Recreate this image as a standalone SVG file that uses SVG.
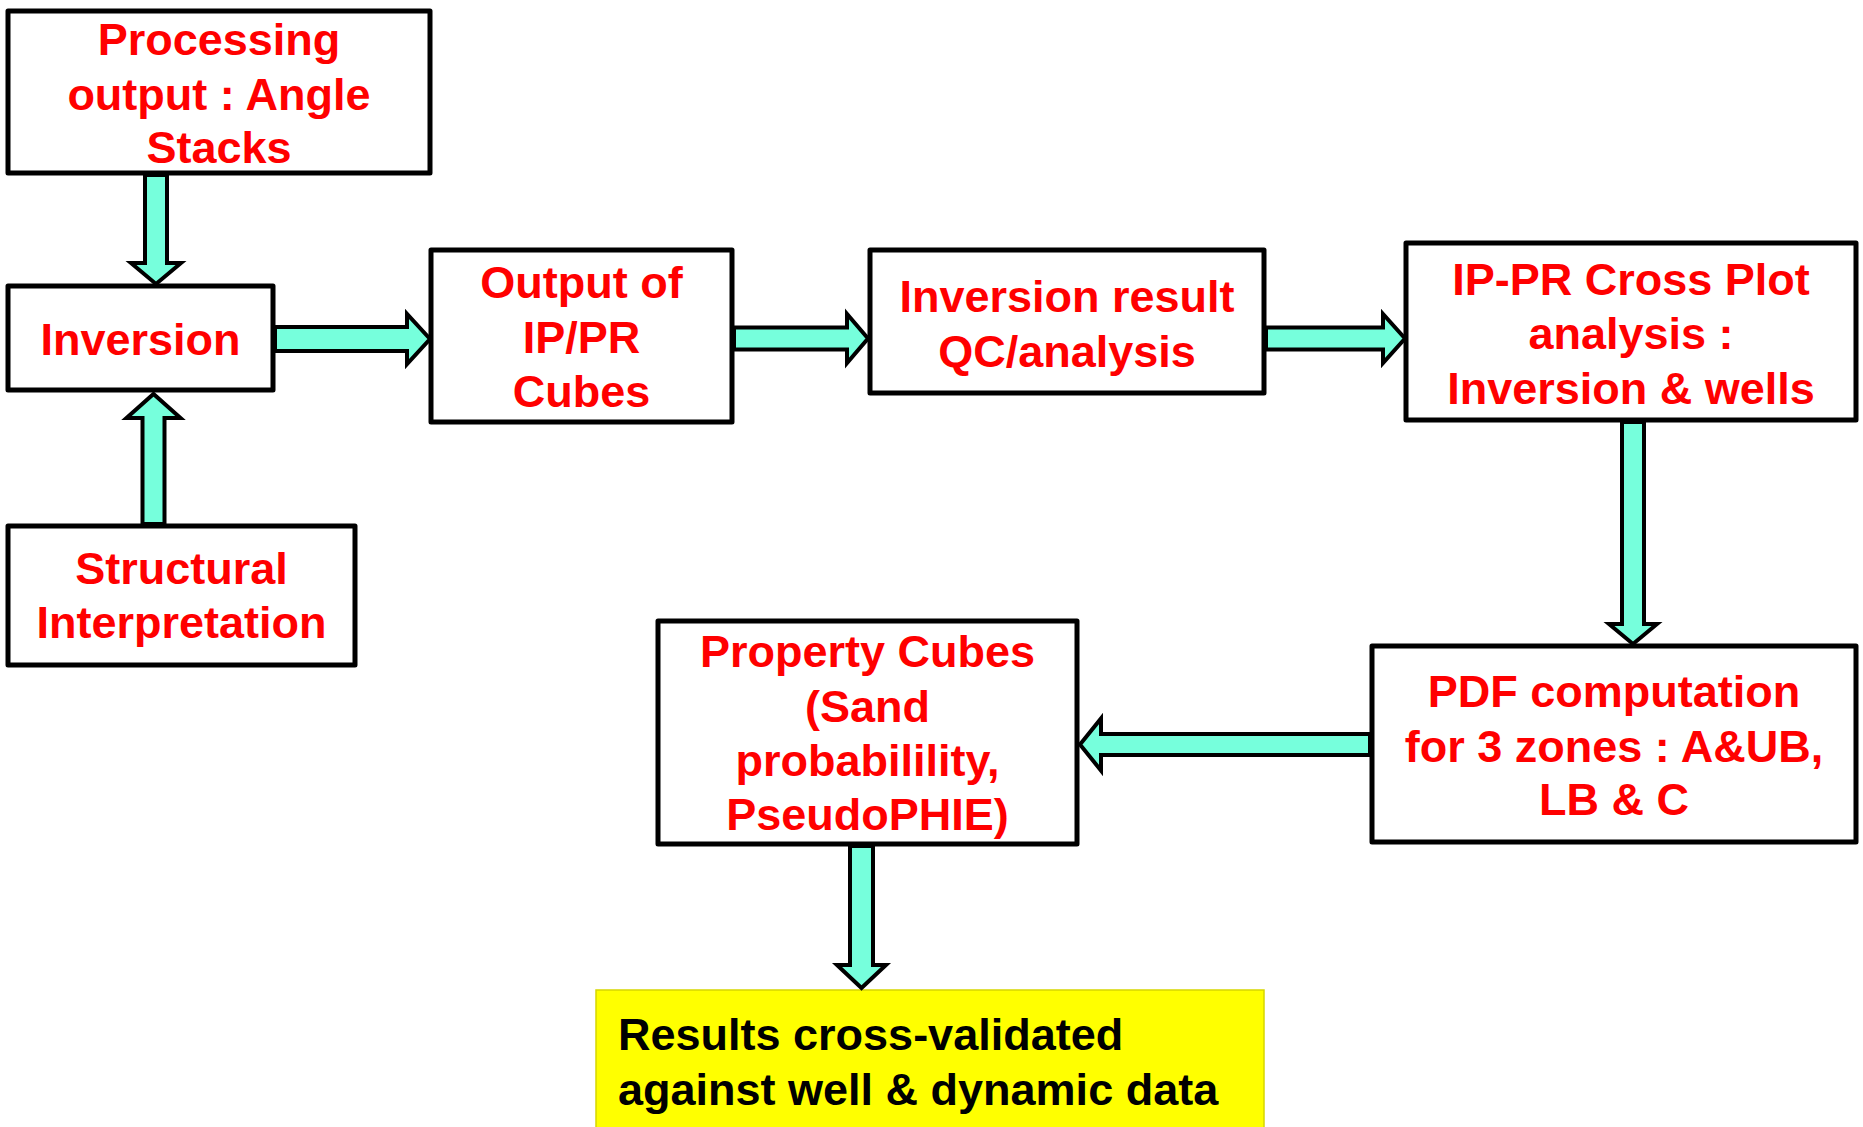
<svg xmlns="http://www.w3.org/2000/svg" width="1863" height="1127" viewBox="0 0 1863 1127">
<style>
.box{fill:#fff;stroke:#000;stroke-width:5;stroke-linejoin:round}
.t{font-family:"Liberation Sans",Arial,sans-serif;font-weight:bold;font-size:45px;fill:#ff0000;text-anchor:middle}
.tb{font-family:"Liberation Sans",Arial,sans-serif;font-weight:bold;font-size:45px;fill:#000}
.arr{fill:#76ffdc;stroke:#000;stroke-width:4;stroke-linejoin:miter}
</style>
<rect width="1863" height="1127" fill="#fff"/>
<g id="node-processing">
<rect class="box" x="8" y="11" width="422" height="162"/>
<text class="t" x="219" y="55">Processing</text>
<text class="t" x="219" y="110">output : Angle</text>
<text class="t" x="219" y="163">Stacks</text>
</g>
<g id="node-inversion">
<rect class="box" x="8" y="286" width="265" height="104"/>
<text class="t" x="140.5" y="355">Inversion</text>
</g>
<g id="node-structural">
<rect class="box" x="8" y="526" width="347" height="139"/>
<text class="t" x="181.5" y="584">Structural</text>
<text class="t" x="181.5" y="638">Interpretation</text>
</g>
<g id="node-output">
<rect class="box" x="431" y="250" width="301" height="172"/>
<text class="t" x="581.5" y="298">Output of</text>
<text class="t" x="581.5" y="353">IP/PR</text>
<text class="t" x="581.5" y="407">Cubes</text>
</g>
<g id="node-invresult">
<rect class="box" x="870" y="250" width="394" height="143"/>
<text class="t" x="1067" y="312">Inversion result</text>
<text class="t" x="1067" y="367">QC/analysis</text>
</g>
<g id="node-crossplot">
<rect class="box" x="1406" y="243" width="450" height="177"/>
<text class="t" x="1631" y="295">IP-PR Cross Plot</text>
<text class="t" x="1631" y="349">analysis :</text>
<text class="t" x="1631" y="404">Inversion &amp; wells</text>
</g>
<g id="node-pdf">
<rect class="box" x="1372" y="646" width="484" height="196"/>
<text class="t" x="1614" y="707">PDF computation</text>
<text class="t" x="1614" y="762">for 3 zones : A&amp;UB,</text>
<text class="t" x="1614" y="815">LB &amp; C</text>
</g>
<g id="node-property">
<rect class="box" x="658" y="621" width="419" height="223"/>
<text class="t" x="867.5" y="667">Property Cubes</text>
<text class="t" x="867.5" y="722">(Sand</text>
<text class="t" x="867.5" y="776">probabilility,</text>
<text class="t" x="867.5" y="830">PseudoPHIE)</text>
</g>
<g id="node-results">
<rect x="596" y="990" width="668" height="150" fill="#ffff00" stroke="#d6d600" stroke-width="1.5"/>
<text class="tb" x="618" y="1050">Results cross-validated</text>
<text class="tb" x="618" y="1105">against well &amp; dynamic data</text>
</g>
<g id="connectors">
<polygon class="arr" points="145,175 167,175 167,263 181,263 156,284 131,263 145,263"/>
<polygon class="arr" points="142.5,524 164.5,524 164.5,418 180.5,418 153.5,394 126.5,418 142.5,418"/>
<polygon class="arr" points="275,327 407,327 407,314 430,339 407,364 407,351 275,351"/>
<polygon class="arr" points="734,327.5 847,327.5 847,314 868,338.5 847,363 847,349.5 734,349.5"/>
<polygon class="arr" points="1266,327.5 1383,327.5 1383,314 1405,338.5 1383,363 1383,349.5 1266,349.5"/>
<polygon class="arr" points="1622,422 1644,422 1644,624 1657,624 1633,644 1609,624 1622,624"/>
<polygon class="arr" points="1370,734 1101,734 1101,718.5 1080,744.5 1101,770.5 1101,755 1370,755"/>
<polygon class="arr" points="850,846 873,846 873,965 886,965 861.5,988 837,965 850,965"/>
</g>
</svg>
